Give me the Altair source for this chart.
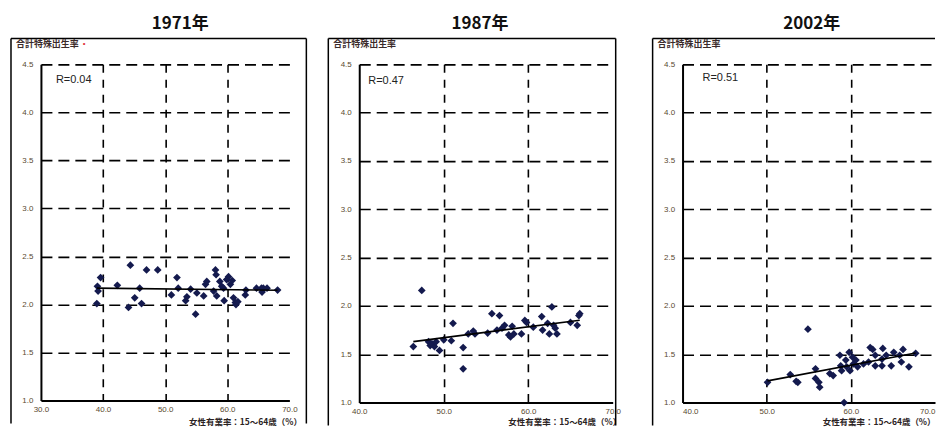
import altair as alt
import pandas as pd

# ---------------- data ----------------
years = ["1971年", "1987年", "2002年"]
r_labels = ["R=0.04", "R=0.47", "R=0.51"]
x_title = "女性有業率：15～64歳（%）"
y_title = "合計特殊出生率"
y_ticks = [1.0, 1.5, 2.0, 2.5, 3.0, 3.5, 4.0, 4.5]
x_ticks_1971 = [30.0, 40.0, 50.0, 60.0, 70.0]
x_ticks_1987 = [40.0, 50.0, 60.0, 70.0]
x_ticks_2002 = [40.0, 50.0, 60.0, 70.0]

x71 = [39.0, 39.1, 39.2, 39.6, 42.3, 44.4, 44.1, 45.1, 45.9, 46.2, 47.0, 48.8,
       51.0, 51.9, 52.1, 53.3, 53.5, 54.1, 54.9, 55.1, 56.2, 56.5, 56.7, 58.1,
       58.2, 57.8, 58.3, 58.8, 59.1, 59.4, 59.5, 59.9, 60.2, 60.5, 60.8, 61.0,
       61.3, 61.4, 61.7, 62.9, 63.0, 64.7, 65.5, 65.6, 65.8, 66.4, 68.1]
y71 = [2.01, 2.19, 2.14, 2.28, 2.20, 2.41, 1.97, 2.07, 2.17, 2.01, 2.36, 2.36,
       2.10, 2.28, 2.17, 2.04, 2.08, 2.16, 1.90, 2.12, 2.09, 2.21, 2.24, 2.36,
       2.31, 2.14, 2.09, 2.24, 2.19, 2.17, 2.04, 2.26, 2.29, 2.21, 2.25, 2.07,
       2.02, 2.00, 2.03, 2.10, 2.15, 2.17, 2.17, 2.13, 2.17, 2.17, 2.15]

x87 = [46.4, 47.4, 48.2, 48.4, 48.6, 48.9, 49.1, 49.5, 50.0, 50.9, 51.1, 52.3,
       52.3, 52.9, 53.5, 53.7, 55.2, 55.7, 56.6, 56.3, 56.9, 57.2, 57.7, 57.9,
       58.1, 58.3, 59.2, 59.6, 59.8, 60.6, 61.6, 61.7, 62.3, 62.5, 62.8, 63.0,
       63.2, 63.4, 65.0, 65.8, 66.0, 66.1]
y87 = [1.58, 2.16, 1.63, 1.59, 1.61, 1.58, 1.63, 1.54, 1.65, 1.64, 1.82, 1.57,
       1.35, 1.71, 1.74, 1.71, 1.72, 1.92, 1.90, 1.75, 1.77, 1.80, 1.70, 1.68,
       1.79, 1.71, 1.71, 1.85, 1.83, 1.78, 1.89, 1.75, 1.82, 1.71, 1.99, 1.80,
       1.77, 1.71, 1.83, 1.80, 1.90, 1.92]

x02 = [50.1, 52.8, 53.5, 53.7, 54.9, 55.8, 55.8, 56.2, 56.3, 57.5, 57.9, 58.7,
       58.8, 58.9, 59.2, 59.4, 59.5, 59.8, 59.9, 60.2, 60.3, 60.6, 60.8, 61.5,
       62.1, 62.3, 62.6, 62.9, 62.9, 63.7, 63.8, 63.7, 64.2, 64.8, 65.1, 65.8,
       66.2, 66.0, 66.9, 67.7]
y02 = [1.21, 1.29, 1.22, 1.21, 1.76, 1.35, 1.25, 1.21, 1.16, 1.30, 1.28, 1.49,
       1.38, 1.33, 1.00, 1.44, 1.37, 1.52, 1.33, 1.47, 1.40, 1.44, 1.37, 1.40,
       1.42, 1.57, 1.55, 1.49, 1.38, 1.45, 1.56, 1.38, 1.49, 1.38, 1.52, 1.49,
       1.55, 1.42, 1.37, 1.51]

# ---------------- style ----------------
CJK = "Noto Sans CJK JP"
LAT = "Liberation Sans"
DOT = "#141a4e"
LABEL_COL = "#5a4a30"


def panel(xs, ys, year, rtext, xticks, w, h, title_dx, r_dx, r_dy,
          frame_l, frame_r, xtitle_x, xtitle_y, flush=False, red_dot=False,
          draw_right=True):
    df = pd.DataFrame({"x": xs, "y": ys})
    one = pd.DataFrame({"t": [rtext]})
    xmin, xmax = xticks[0], xticks[-1]
    xsc = alt.Scale(domain=[xmin, xmax], nice=False, zero=False)
    ysc = alt.Scale(domain=[1.0, 4.5], nice=False, zero=False)

    xaxis = alt.Axis(
        values=xticks, format=".1f", title=x_title,
        grid=True, gridDash=[8, 7], gridColor="black", gridWidth=1.6,
        gridOpacity={"condition": {"test": f"datum.value <= {xmin} || datum.value >= {xmax}",
                                   "value": 0}, "value": 1},
        domainColor="black", domainWidth=2, ticks=False, tickSize=0,
        labelFont=LAT, labelFontSize=8, labelColor=LABEL_COL, labelPadding=5,
        labelFlush=flush,
        titleFont=CJK, titleFontSize=8.5, titleFontWeight="bold", titleColor="#2a2222",
        titleAnchor="end", titleAlign="right", titleBaseline="alphabetic",
        titleX=xtitle_x, titleY=xtitle_y,
    )
    yaxis = alt.Axis(
        values=y_ticks, format=".1f", title=None,
        grid=True, gridDash=[11, 6], gridColor="black", gridWidth=1.6,
        gridOpacity={"condition": {"test": "datum.value <= 1.0", "value": 0}, "value": 1},
        domainColor="black", domainWidth=2, ticks=False, tickSize=0,
        labelFont=LAT, labelFontSize=8, labelColor=LABEL_COL, labelPadding=8,
    )

    pts = alt.Chart(df).mark_point(shape="diamond", filled=True, size=60,
                                   color=DOT, opacity=1).encode(
        x=alt.X("x:Q", scale=xsc, axis=xaxis),
        y=alt.Y("y:Q", scale=ysc, axis=yaxis),
    )
    reg = alt.Chart(df).transform_regression("x", "y").mark_line(
        color="black", strokeWidth=1.6).encode(
        x=alt.X("x:Q", scale=xsc),
        y=alt.Y("y:Q", scale=ysc),
    )
    rlab = alt.Chart(one).mark_text(align="left", baseline="middle", font=LAT,
                                    fontSize=11, color="#222222").encode(
        x=alt.value(r_dx), y=alt.value(r_dy), text="t:N")
    ylab = alt.Chart(pd.DataFrame({"t": [y_title]})).mark_text(
        align="left", baseline="middle", font=CJK, fontSize=9,
        fontWeight="bold", color="#3a2a2a").encode(
        x=alt.value(frame_l + 5), y=alt.value(-20), text="t:N")
    top = alt.Chart(one).mark_rule(color="black", strokeWidth=1.5).encode(
        x=alt.value(frame_l), x2=alt.value(frame_r), y=alt.value(-26))
    left = alt.Chart(one).mark_rule(color="black", strokeWidth=1.5).encode(
        x=alt.value(frame_l), y=alt.value(-26), y2=alt.value(h + 23))
    layers = [top, left, pts, reg, rlab, ylab]
    if draw_right:
        right = alt.Chart(one).mark_rule(color="black", strokeWidth=1.5).encode(
            x=alt.value(frame_r), y=alt.value(-26), y2=alt.value(h + 23))
        layers.append(right)
    if red_dot:
        dot = alt.Chart(pd.DataFrame({"t": ["•"]})).mark_text(
            align="left", baseline="middle", font=LAT, fontSize=8,
            color="#e0303a").encode(x=alt.value(frame_l + 72), y=alt.value(-20), text="t:N")
        layers.append(dot)
    return alt.layer(*layers).properties(
        width=w, height=h,
        title=alt.TitleParams(text=year, font=CJK, fontSize=17, fontWeight="bold",
                              color="#111111", anchor="middle", dx=title_dx, offset=5),
    )


p1 = panel(x71, y71, years[0], r_labels[0], x_ticks_1971, 249, 337,
           title_dx=15, r_dx=15, r_dy=16, frame_l=-30, frame_r=266,
           xtitle_x=261, xtitle_y=24, red_dot=True)
p2 = panel(x87, y87, years[1], r_labels[1], x_ticks_1987, 254, 339,
           title_dx=-6, r_dx=9, r_dy=17, frame_l=-31, frame_r=257,
           xtitle_x=262, xtitle_y=22)
p3 = panel(x02, y02, years[2], r_labels[2], x_ticks_2002, 253, 339,
           title_dx=3, r_dx=20, r_dy=14, frame_l=-30, frame_r=253,
           xtitle_x=253, xtitle_y=22, flush=True, draw_right=False)

chart = alt.hconcat(p1, p2, p3, spacing=70, bounds="flush").configure_view(
    stroke=None
).properties(
    padding={"left": 2, "top": 6, "right": 0, "bottom": 0},
    background="white",
)

chart.save("out.html", embed_options={"renderer": "svg", "actions": False})
